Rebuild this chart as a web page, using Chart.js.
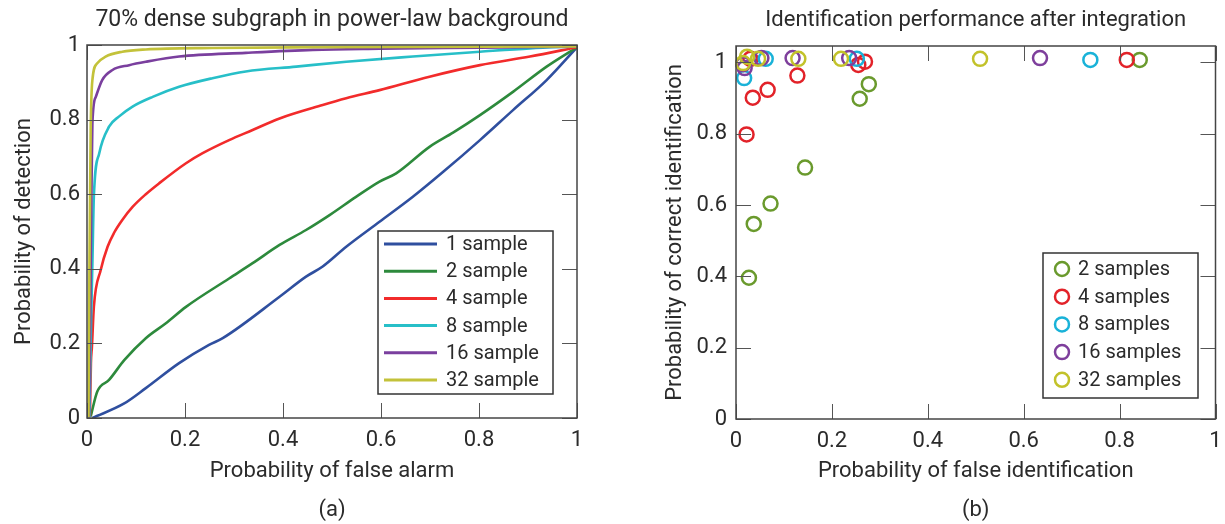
<!DOCTYPE html>
<html>
<head>
<meta charset="utf-8">
<script src="https://cdn.jsdelivr.net/npm/chart.js@4.4.1/dist/chart.umd.min.js"></script>
<style>
  body { margin: 0; background: #fff; width: 1225px; height: 524px; overflow: hidden; position: relative; }
  canvas { position: absolute; top: 0; }
  #rocChart { left: 0; }
  #idChart { left: 615px; }
</style>
</head>
<body>
<canvas id="rocChart" width="610" height="524"></canvas>
<canvas id="idChart" width="610" height="524"></canvas>
<script>
// ---- (a) ROC curves: probability of false alarm vs probability of detection
const rocLabels = ["1 sample", "2 sample", "4 sample", "8 sample", "16 sample", "32 sample"];

const fa1 = [0.011, 0.076, 0.12, 0.188, 0.249, 0.277, 0.393, 0.447, 0.481, 0.529, 0.597, 0.665, 0.727, 0.802, 0.870, 0.938, 1.0];
const pd1 = [0.0, 0.039, 0.080, 0.147, 0.196, 0.214, 0.325, 0.379, 0.406, 0.459, 0.526, 0.593, 0.660, 0.745, 0.826, 0.906, 0.994];

const fa2 = [0.0075, 0.021, 0.045, 0.076, 0.12, 0.161, 0.202, 0.29, 0.338, 0.393, 0.447, 0.495, 0.549, 0.597, 0.631, 0.699, 0.747, 0.802, 0.870, 0.938, 1.0];
const pd2 = [0.004, 0.071, 0.102, 0.155, 0.214, 0.254, 0.298, 0.374, 0.415, 0.464, 0.504, 0.544, 0.593, 0.634, 0.656, 0.727, 0.765, 0.812, 0.875, 0.942, 0.994];

const fa4 = [0.006, 0.008, 0.01, 0.014, 0.028, 0.042, 0.055, 0.072, 0.093, 0.12, 0.147, 0.202, 0.236, 0.29, 0.338, 0.393, 0.481, 0.529, 0.597, 0.699, 0.802, 0.904, 1.0];
const pd4 = [0.004, 0.147, 0.19, 0.298, 0.397, 0.459, 0.496, 0.531, 0.566, 0.600, 0.629, 0.683, 0.71, 0.745, 0.772, 0.803, 0.839, 0.857, 0.879, 0.915, 0.946, 0.969, 0.994];

const fa8 = [0.005, 0.008, 0.011, 0.014, 0.025, 0.045, 0.065, 0.093, 0.134, 0.188, 0.256, 0.324, 0.427, 0.529, 0.665, 0.802, 0.904, 1.0];
const pd8 = [0.002, 0.236, 0.415, 0.593, 0.71, 0.781, 0.808, 0.835, 0.861, 0.888, 0.911, 0.929, 0.942, 0.955, 0.969, 0.982, 0.991, 0.996];

const fa16 = [0.004, 0.007, 0.009, 0.011, 0.018, 0.031, 0.052, 0.086, 0.12, 0.188, 0.324, 0.461, 0.597, 0.802, 1.0];
const pd16 = [0.002, 0.325, 0.593, 0.79, 0.861, 0.906, 0.933, 0.946, 0.955, 0.969, 0.979, 0.987, 0.99, 0.993, 0.996];

const fa32 = [0.003, 0.005, 0.0075, 0.011, 0.021, 0.038, 0.072, 0.12, 0.256, 0.461, 1.0];
const pd32 = [0.002, 0.415, 0.772, 0.906, 0.951, 0.969, 0.982, 0.988, 0.992, 0.994, 0.996];

const rocColors = ["#2f4f9f", "#2d8a3c", "#f22b2b", "#27bfc8", "#7a3f9e", "#c3c23a"];

// ---- (b) identification scatter: false identification vs correct identification
const idLabels = ["2 samples", "4 samples", "8 samples", "16 samples", "32 samples"];

const fi2 = [0.027, 0.037, 0.072, 0.144, 0.258, 0.277, 0.842];
const pc2 = [0.396, 0.547, 0.604, 0.705, 0.898, 0.939, 1.007];

const fi4 = [0.03, 0.022, 0.035, 0.066, 0.128, 0.255, 0.269, 0.815];
const pc4 = [1.01, 0.798, 0.901, 0.923, 0.963, 0.993, 1.002, 1.007];

const fi8 = [0.017, 0.062, 0.252, 0.739];
const pc8 = [0.956, 1.01, 1.01, 1.007];

const fi16 = [0.015, 0.018, 0.053, 0.118, 0.236, 0.634];
const pc16 = [0.995, 0.984, 1.012, 1.012, 1.012, 1.012];

const fi32 = [0.015, 0.023, 0.046, 0.13, 0.219, 0.509];
const pc32 = [0.998, 1.016, 1.01, 1.01, 1.01, 1.01];

const idColors = ["#6a9a2d", "#e22229", "#19b2d8", "#7e3f9c", "#c2c22a"];

const axisTicks = [0, 0.2, 0.4, 0.6, 0.8, 1];

const textColor = "#2b2b2b";
Chart.defaults.font.family = "Roboto, 'Open Sans', sans-serif";
Chart.defaults.color = textColor;

function pts(xs, ys) {
  return xs.map((v, i) => ({ x: v, y: ys[i] }));
}

// frame box + inward ticks on all four sides, MATLAB style
const framePlugin = {
  id: "frame",
  afterDatasetsDraw(chart) {
    const { ctx, chartArea: a, scales } = chart;
    const t = 15;
    ctx.save();
    ctx.strokeStyle = "#555";
    ctx.lineWidth = 1;
    ctx.beginPath();
    scales.x.ticks.forEach(tk => {
      const px = Math.round(scales.x.getPixelForValue(tk.value)) + 0.5;
      ctx.moveTo(px, a.bottom); ctx.lineTo(px, a.bottom - t);
      ctx.moveTo(px, a.top); ctx.lineTo(px, a.top + t);
    });
    scales.y.ticks.forEach(tk => {
      const py = Math.round(scales.y.getPixelForValue(tk.value)) + 0.5;
      ctx.moveTo(a.left, py); ctx.lineTo(a.left + t, py);
      ctx.moveTo(a.right, py); ctx.lineTo(a.right - t, py);
    });
    ctx.stroke();
    ctx.strokeStyle = "#444";
    ctx.lineWidth = 1.5;
    ctx.strokeRect(a.left, a.top, a.right - a.left, a.bottom - a.top);
    ctx.restore();
  }
};

// title above the plot and (a)/(b) caption below
const headingPlugin = {
  id: "heading",
  afterDraw(chart, args, opts) {
    const { ctx, chartArea: a } = chart;
    const cx = (a.left + a.right) / 2;
    ctx.save();
    ctx.fillStyle = textColor;
    ctx.textAlign = "center";
    ctx.textBaseline = "middle";
    ctx.font = opts.titleSize + "px Roboto, 'Open Sans', sans-serif";
    ctx.fillText(opts.title, cx, opts.titleY);
    ctx.font = "22px Roboto, 'Open Sans', sans-serif";
    ctx.fillText(opts.caption, cx, opts.captionY);
    ctx.restore();
  }
};

// boxed legend inside the plot
const boxLegendPlugin = {
  id: "boxLegend",
  afterDraw(chart, args, opts) {
    const { ctx } = chart;
    const [bx, by, bw, bh] = opts.box;
    ctx.save();
    ctx.fillStyle = "#fff";
    ctx.fillRect(bx, by, bw, bh);
    ctx.strokeStyle = "#333";
    ctx.lineWidth = 1.5;
    ctx.strokeRect(bx, by, bw, bh);
    ctx.font = "20px Roboto, 'Open Sans', sans-serif";
    ctx.textBaseline = "middle";
    chart.data.datasets.forEach((ds, i) => {
      const y = opts.firstRow + i * opts.rowStep;
      if (opts.kind === "line") {
        ctx.strokeStyle = ds.borderColor;
        ctx.lineWidth = 3;
        ctx.beginPath();
        ctx.moveTo(opts.markX, y);
        ctx.lineTo(opts.markX + 53, y);
        ctx.stroke();
      } else {
        ctx.strokeStyle = ds.borderColor;
        ctx.lineWidth = 2.5;
        ctx.beginPath();
        ctx.arc(opts.markX, y, 7, 0, Math.PI * 2);
        ctx.stroke();
      }
      ctx.fillStyle = textColor;
      ctx.fillText(ds.label, opts.textX, y + 1);
    });
    ctx.restore();
  }
};

function makeAxis(title, titlePad, tickPad, max, isX, size) {
  return {
    type: "linear",
    min: 0,
    max: max,
    grid: { display: false, drawTicks: false },
    border: { display: false },
    afterBuildTicks: s => { s.ticks = axisTicks.map(v => ({ value: v })); },
    ticks: {
      padding: tickPad,
      font: { size: 22 },
      color: textColor,
      autoSkip: false,
      maxRotation: 0,
      callback: v => String(v)
    },
    title: { display: true, text: title, font: { size: 22 }, color: textColor, padding: titlePad },
    afterFit: s => {
      if (isX) {
        s.height = size;
        s.paddingLeft = 0;
        s.paddingRight = 0;
      } else {
        s.width = size;
        s.paddingTop = 0;
        s.paddingBottom = 0;
      }
    }
  };
}

const rocSeries = [[fa1, pd1], [fa2, pd2], [fa4, pd4], [fa8, pd8], [fa16, pd16], [fa32, pd32]];

new Chart(document.getElementById("rocChart"), {
  type: "line",
  data: {
    datasets: rocSeries.map((s, i) => ({
      label: rocLabels[i],
      data: pts(s[0], s[1]),
      borderColor: rocColors[i],
      borderWidth: 2.6,
      pointRadius: 0,
      cubicInterpolationMode: "monotone",
      order: rocSeries.length - i
    }))
  },
  options: {
    responsive: false,
    animation: false,
    events: [],
    layout: { padding: { left: 0, right: 33, top: 45, bottom: 36 } },
    scales: {
      x: makeAxis("Probability of false alarm", { top: 0, bottom: 3 }, 9, 1, true, 70),
      y: makeAxis("Probability of detection", { top: 11, bottom: 0 }, 7, 1, false, 87)
    },
    plugins: {
      legend: { display: false },
      tooltip: { enabled: false },
      heading: { title: "70% dense subgraph in power-law background", titleSize: 23, titleY: 20, caption: "(a)", captionY: 510 },
      boxLegend: { kind: "line", box: [378, 231, 175, 163], markX: 384, textX: 446, firstRow: 244, rowStep: 27.2 }
    }
  },
  plugins: [framePlugin, headingPlugin, boxLegendPlugin]
});

const idSeries = [[fi2, pc2], [fi4, pc4], [fi8, pc8], [fi16, pc16], [fi32, pc32]];

new Chart(document.getElementById("idChart"), {
  type: "scatter",
  data: {
    datasets: idSeries.map((s, i) => ({
      label: idLabels[i],
      data: pts(s[0], s[1]),
      borderColor: idColors[i],
      backgroundColor: "rgba(0,0,0,0)",
      pointRadius: 7,
      pointBorderWidth: 2.5,
      clip: false,
      order: idSeries.length - i
    }))
  },
  options: {
    responsive: false,
    animation: false,
    events: [],
    layout: { padding: { left: 0, right: 3, top: 46, bottom: 35 } },
    scales: {
      x: makeAxis("Probability of false identification", { top: 0, bottom: 4 }, 9, 1, true, 70),
      y: makeAxis("Probability of correct identification", { top: 47, bottom: 0 }, 9, 1.046, false, 121)
    },
    plugins: {
      legend: { display: false },
      tooltip: { enabled: false },
      heading: { title: "Identification performance after integration", titleSize: 22, titleY: 20, caption: "(b)", captionY: 510 },
      boxLegend: { kind: "circle", box: [428, 253, 155, 145], markX: 447, textX: 463, firstRow: 269, rowStep: 27.7 }
    }
  },
  plugins: [framePlugin, headingPlugin, boxLegendPlugin]
});
</script>
</body>
</html>
